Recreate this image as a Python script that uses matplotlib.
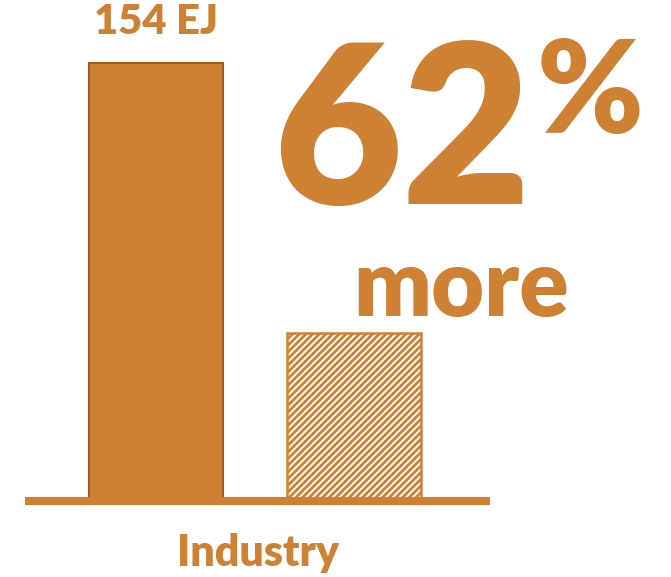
import matplotlib.pyplot as plt

plt.rcParams['font.family'] = ['Lato', 'DejaVu Sans']
plt.rcParams['hatch.linewidth'] = 2.0

bronze = '#CE8033'
dark_edge = '#A65A1E'
plt.rcParams['hatch.color'] = bronze

# energy demand, EJ
values = [154, 59]
value_label = '154 EJ'
sector = 'Industry'

fig = plt.figure(figsize=(6.71, 5.77), dpi=100)
ax = fig.add_axes([25 / 671, 77 / 577, 465 / 671, 482 / 577])
ax.set_xlim(-0.662, 1.687)
ax.set_ylim(0, 170)

ax.bar(0, values[0], width=0.677, color=bronze, edgecolor=dark_edge, linewidth=1.5)
ax.bar(1, values[1], width=0.677, color='white', edgecolor=bronze, linewidth=1.8,
       hatch='/////')
ax.axhline(-0.3, color=bronze, linewidth=5.8, zorder=5, clip_on=False,
           solid_capstyle='butt')

ax.text(0, values[0] + 8, value_label, ha='center', va='bottom',
        fontsize=30, fontweight='heavy', color=bronze)
ax.axis('off')

fig.text(402 / 671, 1 - 204 / 577, '62', ha='center', va='baseline',
         fontsize=160, fontweight='heavy', color=bronze)
fig.text(590 / 671, 1 - 133 / 577, '%', ha='center', va='baseline',
         fontsize=92, fontweight='heavy', color=bronze)
fig.text(461 / 671, 1 - 316 / 577, 'more', ha='center', va='baseline',
         fontsize=66, fontweight='heavy', color=bronze)
fig.text(258 / 671, 1 - 566 / 577, sector, ha='center', va='baseline',
         fontsize=31, fontweight='heavy', color=bronze)

fig.savefig('out.png', dpi=100)
